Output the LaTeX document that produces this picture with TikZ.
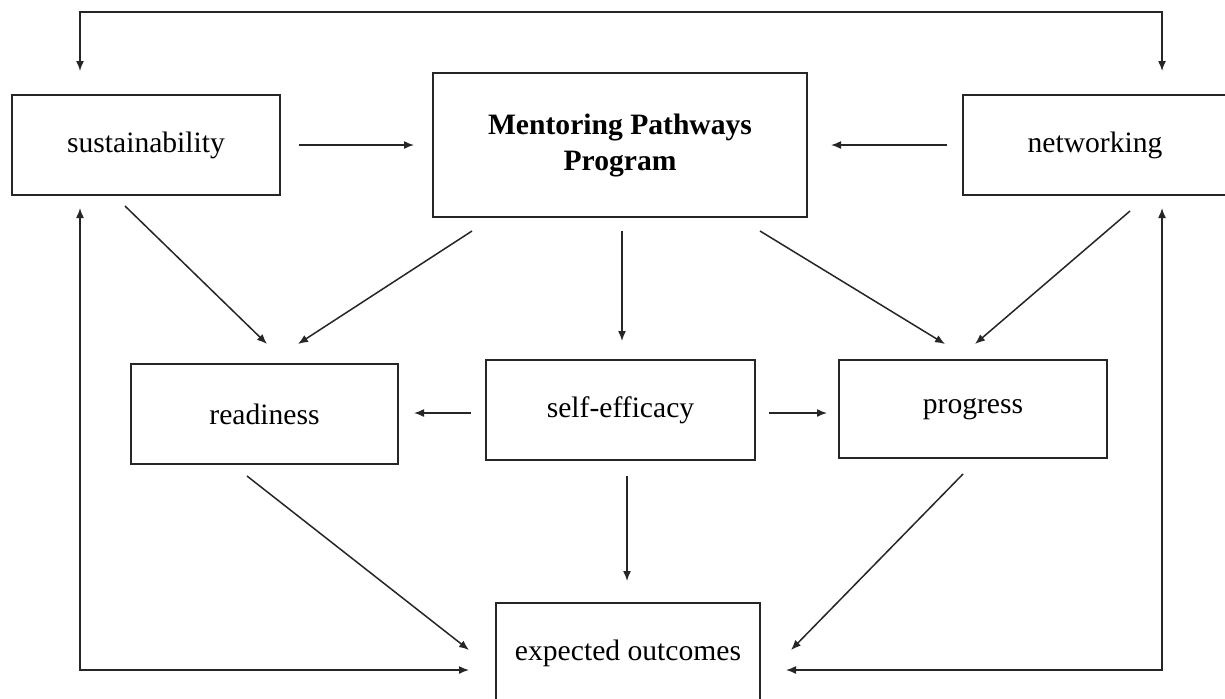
\documentclass[tikz,border=0pt]{standalone}
\usepackage{fontspec}
\setmainfont{Liberation Serif}
\usetikzlibrary{arrows.meta,calc}
\begin{document}
\begin{tikzpicture}[x=0.5pt,y=-0.5pt,
  box/.style={draw=black!85, line width=1pt, rectangle, align=center, inner sep=0pt, font=\fontsize{14.8}{18}\selectfont},
  arr/.style={draw=black!85, line width=0.75pt, -{Latex[length=5pt,width=4pt]}},
  arrboth/.style={draw=black!85, line width=0.75pt, {Latex[length=5pt,width=4pt]}-{Latex[length=5pt,width=4pt]}}]
\fill[white] (0,0) rectangle (1225,698);
\useasboundingbox (0,0) rectangle (1225,698);
% nodes
\node[box, minimum width=134pt, minimum height=50pt] (sus) at (146,145) {sustainability};
\node[box, minimum width=187pt, minimum height=72pt] (mp) at (620,145) {\textbf{Mentoring Pathways}\\\textbf{Program}};
\node[box, minimum width=132pt, minimum height=50pt] (net) at (1095,145) {networking};
\node[box, minimum width=133.5pt, minimum height=50pt] (rd) at (264.5,414) {readiness};
\node[box, minimum width=134.5pt, minimum height=50pt] (se) at (620.5,410) {self-efficacy};
\node[box, minimum width=134pt, minimum height=49pt] (pg) at (973,409) {progress};
\node[box, minimum width=132pt, minimum height=50pt] (eo) at (628,653) {expected outcomes};
% loop corners
\coordinate (tl) at (80,12);
\coordinate (tr) at (1162,12);
\coordinate (bl) at (80,670);
\coordinate (br) at (1162,670);
% top loop
\draw[arrboth] ($(tl|-sus.north)+(0,-23)$) -- (tl) -- (tr) -- ($(tr|-net.north)+(0,-23)$);
% left loop
\draw[arrboth] ($(bl|-sus.south)+(0,12)$) -- (bl) -- ($(bl-|eo.west)+(-26,0)$);
% right loop
\draw[arrboth] ($(br|-net.south)+(0,12)$) -- (br) -- ($(br-|eo.east)+(25,0)$);
% horizontal top arrows
\draw[arr, shorten <=9pt, shorten >=9pt] (sus) -- (mp);
\draw[arr, shorten <=7.5pt, shorten >=11.5pt] (net) -- (mp);
% diagonals to middle row
\draw[arr] ([shift={(-21,10)}]sus.south) -- ([shift={(2.5,-19)}]rd.north);
\draw[arr] ([shift={(-148,13)}]mp.south) -- ([shift={(33.5,-19)}]rd.north);
\draw[arr] ([shift={(2,13)}]mp.south) -- ([shift={(1.5,-18)}]se.north);
\draw[arr] ([shift={(140,13)}]mp.south) -- ([shift={(-28,-15)}]pg.north);
\draw[arr] ([shift={(35,15)}]net.south) -- ([shift={(2,-15)}]pg.north);
% middle row horizontals
\draw[arr] ([shift={(-14,3)}]se.west) -- ([shift={(15,-1)}]rd.east);
\draw[arr] ([shift={(13,3)}]se.east) -- ([shift={(-11,4)}]pg.west);
% to expected outcomes
\draw[arr] ([shift={(-17.5,11)}]rd.south) -- ([shift={(-26,-3)}]eo.west);
\draw[arr] ([shift={(6.5,15)}]se.south) -- ([shift={(-1,-21)}]eo.north);
\draw[arr] ([shift={(-10,15)}]pg.south) -- ([shift={(30,-3)}]eo.east);
\end{tikzpicture}
\end{document}
